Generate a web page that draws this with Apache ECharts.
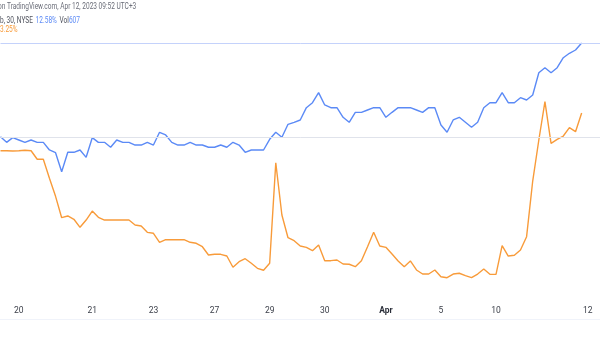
<!DOCTYPE html>
<html>
<head>
<meta charset="utf-8">
<script src="https://cdn.jsdelivr.net/npm/echarts@6/dist/echarts.min.js"></script>
<style>
  html, body { margin: 0; padding: 0; background: #ffffff; }
  #chart { width: 600px; height: 338px; }
</style>
</head>
<body>
<div id="chart"></div>
<script>
// 30-minute bars, percent change in compare mode
const mainSeries = [
  0.08, -0.67, -0.05, -0.36, -0.67, -0.36, -0.67, -0.67, -1.69, -2.05,
  -4.59, -2.00, -2.00, -1.69, -2.67, -0.05, -0.67, -0.67, -1.33, -0.36,
  -0.67, -0.67, -1.03, -1.03, -0.67, -1.03, 0.67, 0.31, -0.67, -1.03,
  -1.03, -0.67, -1.03, -1.03, -1.33, -1.33, -1.03, -1.33, -0.67, -1.03,
  -2.00, -1.69, -1.69, -1.69, -0.27, 0.67, 0.00, 1.73, 2.00, 2.31,
  3.95, 4.61, 5.95, 4.31, 3.95, 3.95, 2.67, 2.00, 3.33, 3.33,
  3.64, 3.95, 3.95, 2.67, 3.33, 3.95, 3.95, 3.95, 3.64, 3.33,
  3.95, 3.95, 1.64, 0.67, 2.31, 2.67, 2.00, 1.33, 2.00, 3.95,
  4.61, 4.61, 5.95, 4.61, 4.61, 5.28, 4.97, 5.64, 8.61, 9.28,
  8.61, 9.28, 10.61, 11.20, 11.64, 12.58
];
const compareSeries = [
  -1.79, -1.79, -1.83, -1.79, -1.73, -1.79, -2.93, -2.93, -5.47, -7.87,
  -10.72, -10.49, -10.93, -12.00, -11.03, -9.83, -10.67, -11.03, -11.03, -11.03,
  -11.03, -11.03, -11.69, -11.83, -12.67, -12.80, -14.00, -13.65, -13.65, -13.65,
  -13.65, -14.00, -14.13, -14.59, -15.69, -15.60, -15.60, -15.83, -17.33, -16.59,
  -16.19, -16.80, -17.47, -17.73, -16.80, -3.39, -10.36, -13.39, -13.79, -14.49,
  -14.67, -15.12, -14.36, -16.45, -16.45, -16.36, -16.89, -16.93, -17.25, -16.45,
  -14.59, -12.67, -14.49, -14.67, -15.56, -16.49, -17.25, -16.49, -17.69, -18.23,
  -18.23, -17.69, -18.59, -18.72, -18.23, -18.13, -18.45, -18.72, -18.23, -17.56,
  -18.27, -18.27, -14.45, -15.83, -15.73, -15.03, -13.25, -5.83, -0.36, 4.75,
  -0.80, -0.27, 0.17, 1.28, 0.75, 3.25
];

// time-scale labels and the bar slot they sit on
const tickSlots = [3, 15, 25, 35, 44, 53, 63, 72, 81, 96];
const tickLabels = ['20', '21', '23', '27', '29', '30', 'Apr', '5', '10', '12'];
const slotCount = 99;

// header texts
const sourceLine = 'on TradingView.com, Apr 12, 2023 09:52 UTC+3';
const symbolLine = 'b, 30, NYSE';
const volumeText = '607';

const categories = Array.from({ length: slotCount }, (_, i) => {
  const k = tickSlots.indexOf(i);
  return k >= 0 ? tickLabels[k] : '';
});

const BLUE = '#5b8af6';
const ORANGE = '#f89b3a';
const pct = v => v.toFixed(2) + '%';
const mainLast = mainSeries[mainSeries.length - 1];
const compareLast = compareSeries[compareSeries.length - 1];

const chart = echarts.init(document.getElementById('chart'), null, { renderer: 'canvas' });

chart.setOption({
  animation: false,
  backgroundColor: '#ffffff',
  grid: { left: 0.5, right: 0, top: 2.3, bottom: 35.7, containLabel: false },
  xAxis: {
    type: 'category',
    data: categories,
    boundaryGap: false,
    axisLine: { show: false },
    axisTick: { show: false },
    splitLine: { show: false },
    axisLabel: {
      interval: (i) => tickSlots.indexOf(i) >= 0,
      margin: 4,
      fontFamily: 'Roboto',
      fontSize: 8.5,
      color: '#3a3e48',
      formatter: (v) => v === 'Apr' ? '{b|Apr}' : v,
      rich: { b: { fontFamily: 'Roboto', fontSize: 8.5, fontWeight: 'bold', color: '#2a2e39' } }
    }
  },
  yAxis: {
    type: 'value',
    min: -22,
    max: 18,
    show: false,
    splitLine: { show: false }
  },
  series: [
    {
      name: 'compare',
      type: 'line',
      data: compareSeries,
      showSymbol: false,
      lineStyle: { color: ORANGE, width: 1.4 },
      itemStyle: { color: ORANGE },
      z: 3
    },
    {
      name: 'main',
      type: 'line',
      data: mainSeries,
      showSymbol: false,
      lineStyle: { color: BLUE, width: 1.4 },
      itemStyle: { color: BLUE },
      z: 4,
      markLine: {
        silent: true,
        symbol: ['none', 'none'],
        label: { show: false },
        data: [
          { yAxis: 0, lineStyle: { color: '#e0e3eb', width: 1, type: 'solid' } },
          { yAxis: mainLast, lineStyle: { color: '#c4d2fb', width: 1, type: 'solid' } }
        ]
      }
    }
  ],
  graphic: [
    {
      type: 'text',
      x: -2, y: 3,
      scaleX: 0.8,
      style: { text: sourceLine, fontFamily: 'Roboto', fontSize: 8.2, fill: '#6a6d78' }
    },
    {
      type: 'text',
      x: 0, y: 15,
      scaleX: 0.8,
      style: {
        text: '{g|' + symbolLine + '} {b|' + pct(mainLast) + '} {g|Vol}{b|' + volumeText + '}',
        rich: {
          g: { fontFamily: 'Roboto', fontSize: 8.2, fill: '#50535e' },
          b: { fontFamily: 'Roboto', fontSize: 8.2, fill: BLUE }
        }
      }
    },
    {
      type: 'text',
      x: 0, y: 26,
      scaleX: 0.8,
      style: { text: pct(compareLast), fontFamily: 'Roboto', fontSize: 8.2, fill: ORANGE }
    },
    {
      type: 'line',
      shape: { x1: 0, y1: 319.5, x2: 600, y2: 319.5 },
      style: { stroke: '#f0f3fa', lineWidth: 1 }
    }
  ]
});
</script>
</body>
</html>
